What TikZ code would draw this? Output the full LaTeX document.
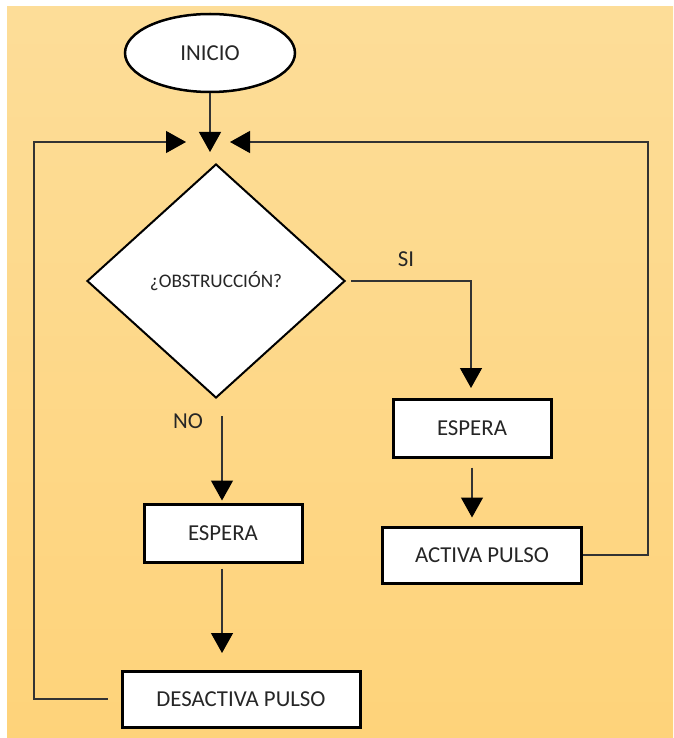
\documentclass[tikz,border=0pt]{standalone}
\usepackage{fontspec}
\setmainfont{Carlito}
\usetikzlibrary{shapes.geometric,arrows.meta}
\definecolor{bgtop}{RGB}{253,221,152}
\definecolor{bgbot}{RGB}{254,211,122}
\definecolor{txt}{RGB}{38,38,38}
\tikzset{
  boxnode/.style={draw=black,line width=3pt,fill=white,rectangle,inner sep=0pt,text=txt,font=\fontsize{22.8}{26}\selectfont},
  conn/.style={draw=black!80,line width=1.3pt},
  arr/.style={conn,-{Triangle[width=22pt,length=20pt,color=black,fill=black]}},
  lbl/.style={text=txt,font=\fontsize{22.8}{26}\selectfont,inner sep=0pt}
}
\begin{document}
\begin{tikzpicture}[x=1pt,y=-1pt]
\useasboundingbox (0,0) rectangle (673,738);
\fill[white] (0,0) rectangle (673,738);
\shade[top color=bgtop,bottom color=bgbot] (7,7) rectangle (673,738);
% nodes
\node[boxnode,ellipse,line width=2.5pt,minimum width=170pt,minimum height=78pt] (inicio) at (210,53) {INICIO};
\node[boxnode,diamond,line width=2pt,minimum width=258pt,minimum height=234pt,font=\fontsize{19.2}{22}\selectfont] (dec) at (216,281) {¿OBSTRUCCIÓN?};
\node[boxnode,minimum width=158pt,minimum height=58pt] (esperaR) at (472,428) {ESPERA};
\node[boxnode,minimum width=199pt,minimum height=56pt] (activa) at (482,555) {ACTIVA PULSO};
\node[boxnode,minimum width=158pt,minimum height=58pt] (esperaL) at (223,533) {ESPERA};
\node[boxnode,minimum width=238pt,minimum height=56pt] (desact) at (241,699) {DESACTIVA PULSO};
\node[lbl] (si) at (406,259) {SI};
\node[lbl] (no) at (188,421) {NO};
% coordinates
\coordinate (tipTop) at (210,152);
\coordinate (tipL) at (186,142);
\coordinate (tipR) at (230,142);
\coordinate (tipSI) at (471,388);
\coordinate (lc) at (34,142);
\coordinate (rc) at (648,142);
\coordinate (noS) at (222,416);
\coordinate (tipD) at (222,653);
% connectors
\draw[arr] (inicio.south) -- (tipTop);
\draw[arr] ([xshift=5pt]dec.east) -| (tipSI);
\draw[arr] ([yshift=-9pt]esperaR.south) -- ([yshift=8pt]activa.north -| esperaR.south);
\draw[arr] (activa.east) -| (rc) -- (tipR);
\draw[arr] (noS) -- ([yshift=2pt]esperaL.north -| noS);
\draw[arr] ([yshift=-5pt]esperaL.south -| tipD) -- (tipD);
\draw[arr] ([xshift=-13pt]desact.west) -| (lc) -- (tipL);
\end{tikzpicture}
\end{document}
